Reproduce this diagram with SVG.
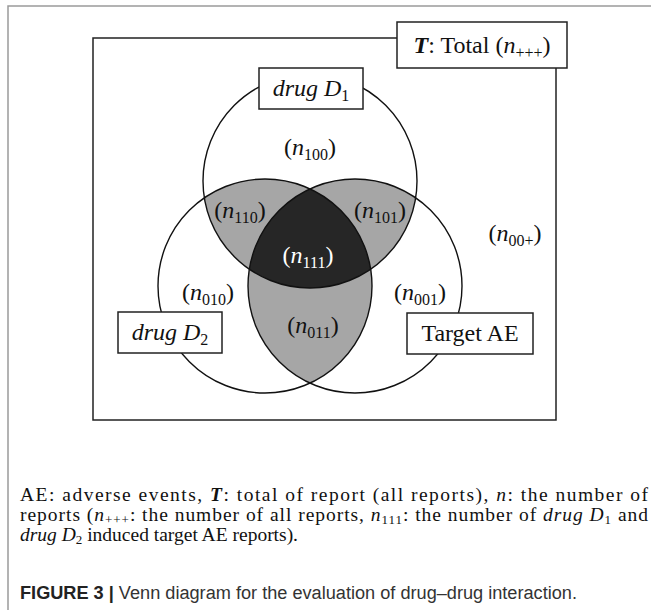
<svg xmlns="http://www.w3.org/2000/svg" width="651" height="610" viewBox="0 0 651 610">
<style>
.frame{fill:none;stroke:#9a9a9a;stroke-width:1.5}
.box{fill:#fff;stroke:#222;stroke-width:1.5}
.circ{fill:none;stroke:#111;stroke-width:1.4}
.lbl{font-family:"Liberation Serif",serif;font-size:24px;fill:#111;text-anchor:middle}
.it{font-style:italic}
.sub{font-size:16px}
.body{font-family:"Liberation Serif",serif;font-size:19.5px;fill:#111}
.cap{font-family:"Liberation Sans",sans-serif;font-size:18px;fill:#333}
</style>
<defs>
<clipPath id="cD1"><circle cx="310" cy="181" r="107"/></clipPath>
<clipPath id="cD2"><circle cx="265" cy="286" r="107"/></clipPath>
<clipPath id="cAE"><circle cx="355" cy="286" r="107"/></clipPath>
</defs>
<rect width="651" height="610" fill="#fff"/>
<path class="frame" d="M8,610 V6 H651"/>
<g id="total">
<rect x="93" y="38" width="463" height="382" fill="none" stroke="#222" stroke-width="1.5"/>
</g>
<g id="shading">
<g clip-path="url(#cD2)"><circle cx="310" cy="181" r="107" fill="#a6a6a6"/></g>
<g clip-path="url(#cAE)"><circle cx="310" cy="181" r="107" fill="#a6a6a6"/></g>
<g clip-path="url(#cAE)"><circle cx="265" cy="286" r="107" fill="#a6a6a6"/></g>
<g clip-path="url(#cD2)"><g clip-path="url(#cAE)"><circle cx="310" cy="181" r="107" fill="#262626"/></g></g>
</g>
<g id="circles">
<circle class="circ" cx="310" cy="181" r="107"/>
<circle class="circ" cx="265" cy="286" r="107"/>
<circle class="circ" cx="355" cy="286" r="107"/>
</g>
<g id="regions">
<text class="lbl" x="310" y="155">(<tspan class="it">n</tspan><tspan class="sub" dy="5">100</tspan><tspan dy="-5">)</tspan></text>
<text class="lbl" x="240" y="218">(<tspan class="it">n</tspan><tspan class="sub" dy="5">110</tspan><tspan dy="-5">)</tspan></text>
<text class="lbl" x="380" y="218">(<tspan class="it">n</tspan><tspan class="sub" dy="5">101</tspan><tspan dy="-5">)</tspan></text>
<text class="lbl" x="308" y="263" style="fill:#fff">(<tspan class="it">n</tspan><tspan class="sub" dy="5">111</tspan><tspan dy="-5">)</tspan></text>
<text class="lbl" x="208" y="300">(<tspan class="it">n</tspan><tspan class="sub" dy="5">010</tspan><tspan dy="-5">)</tspan></text>
<text class="lbl" x="313" y="333">(<tspan class="it">n</tspan><tspan class="sub" dy="5">011</tspan><tspan dy="-5">)</tspan></text>
<text class="lbl" x="420" y="300">(<tspan class="it">n</tspan><tspan class="sub" dy="5">001</tspan><tspan dy="-5">)</tspan></text>
<text class="lbl" x="515" y="241">(<tspan class="it">n</tspan><tspan class="sub" dy="5">00+</tspan><tspan dy="-5">)</tspan></text>
</g>
<g id="total-label">
<rect class="box" x="397" y="22" width="170" height="46"/>
<text class="lbl" x="482" y="53"><tspan font-weight="bold" class="it">T</tspan>: Total (<tspan class="it">n</tspan><tspan class="sub" dy="5">+++</tspan><tspan dy="-5">)</tspan></text>
</g>
<g id="drugD1">
<rect class="box" x="259" y="68" width="104" height="41"/>
<text class="lbl it" x="311" y="96">drug D<tspan class="sub" dy="5" font-style="normal">1</tspan></text>
</g>
<g id="drugD2">
<rect class="box" x="118" y="312" width="104" height="41"/>
<text class="lbl it" x="170" y="340">drug D<tspan class="sub" dy="5" font-style="normal">2</tspan></text>
</g>
<g id="targetAE">
<rect class="box" x="407" y="313" width="126" height="41"/>
<text class="lbl" x="470" y="341">Target AE</text>
</g>
<g id="notes">
<text class="body" x="20" y="501" textLength="628" lengthAdjust="spacing">AE: adverse events, <tspan font-weight="bold" font-style="italic">T</tspan>: total of report (all reports), <tspan font-style="italic">n</tspan>: the number of</text>
<text class="body" x="20" y="521" textLength="628" lengthAdjust="spacing">reports (<tspan font-style="italic">n</tspan><tspan font-size="13" dy="3">+++</tspan><tspan dy="-3">: the number of all reports, </tspan><tspan font-style="italic">n</tspan><tspan font-size="13" dy="3">111</tspan><tspan dy="-3">: the number of </tspan><tspan font-style="italic">drug D</tspan><tspan font-size="13" dy="3">1</tspan><tspan dy="-3"> and</tspan></text>
<text class="body" x="20" y="541"><tspan font-style="italic">drug D</tspan><tspan font-size="13" dy="3">2</tspan><tspan dy="-3"> induced target AE reports).</tspan></text>
<text class="cap" x="20" y="599" textLength="557" lengthAdjust="spacingAndGlyphs"><tspan font-weight="bold" fill="#222">FIGURE 3 |</tspan> Venn diagram for the evaluation of drug–drug interaction.</text>
</g>
</svg>
